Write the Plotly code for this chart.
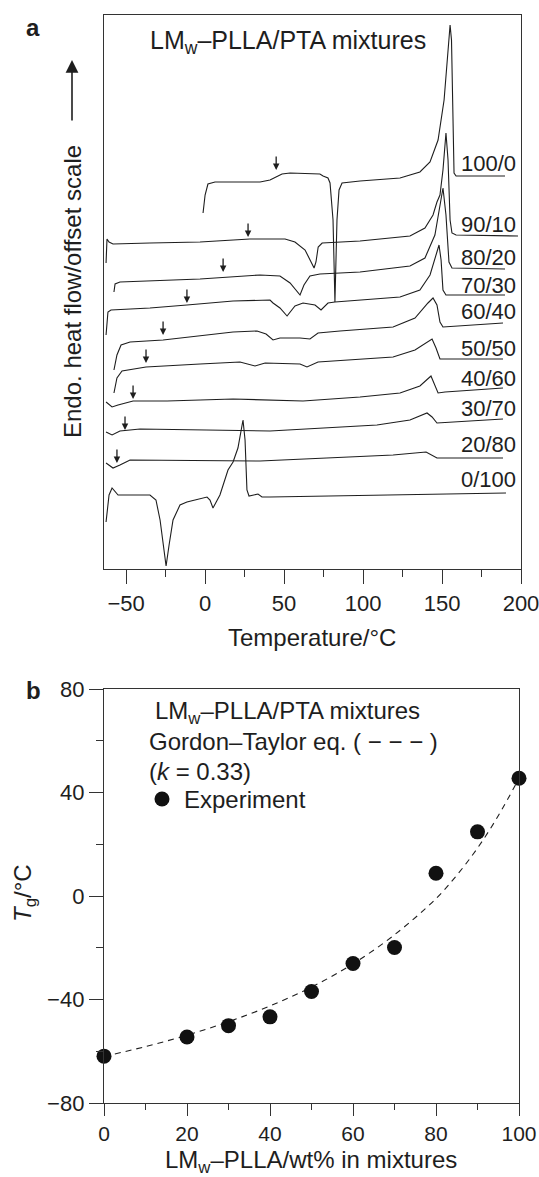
import plotly.graph_objects as go

# ---------------- Panel (a): DSC traces (temperature in degC, offset heat flow in arbitrary units)
labels = ["100/0", "90/10", "80/20", "70/30", "60/40", "50/50", "40/60", "30/70", "20/80", "0/100"]

t_100_0 = [-1.3, 0, 1.8, 6.3, 34.8, 41.1, 48.7, 53.8, 72.7, 74.7, 77.8, 79.1, 81.0, 82.2, 83.5, 84.8, 86.7,
           98.1, 123.4, 136, 142.4, 147.5, 151.3, 153.8, 155.1, 156.0, 156.9, 157.6, 158.9, 167.7, 189.9]
h_100_0 = [355, 373, 384, 386, 386, 388, 394, 395, 394, 392, 390, 385, 348, 266, 348, 378, 385,
           387, 390, 396, 406, 428, 468, 518, 543, 528, 448, 395, 392, 392, 392]

t_90_10 = [-62.7, -62.1, -60.8, -58.3, -34.9, -3.2, 28.4, 50.6, 56.9, 63.3, 67.1, 69.0, 70.2, 71.6, 74.1,
           98.1, 129.7, 139.2, 144.3, 146.8, 148.7, 150.6, 152.5, 153.8, 155.1, 156.3, 158.9, 198.1]
h_90_10 = [305, 329, 326, 324, 325, 326, 329, 329, 326, 318, 306, 300, 306, 321, 325,
           327, 332, 340, 353, 366, 373, 398, 435, 408, 348, 335, 333, 332]

t_80_20 = [-57.7, -57.0, -53.9, -3.2, 34.8, 47.4, 53.8, 58.2, 60.1, 62.6, 66.4, 72.7, 98.1, 129.7, 139.2,
           145.5, 148.7, 150.6, 152.5, 154.4, 156.3, 189.9]
h_80_20 = [276, 284, 286, 289, 293, 292, 285, 276, 273, 283, 292, 294, 296, 302, 310,
           333, 363, 380, 353, 306, 300, 299]

t_70_30 = [-62.7, -61.5, -59.6, -34.9, -11.5, 17.7, 41.1, 43.0, 47.4, 51.9, 56.9, 62.0, 69.6, 73.4, 77.8, 82.2,
           123.4, 136, 142.4, 146.2, 148.1, 149.4, 150.6, 152.5, 189.9]
h_70_30 = [233, 256, 258, 260, 263, 267, 268, 265, 260, 252, 262, 265, 263, 258, 265, 266,
           271, 278, 293, 313, 323, 308, 278, 273, 273]

t_60_40 = [-57.7, -55.8, -53.2, -47.5, -26.6, 17.7, 32.9, 38.6, 43.0, 47.4, 60.1, 66.4, 71.5, 85.4, 119,
           132.9, 141.1, 144.3, 146.8, 148.7, 150.6, 188.6]
h_60_40 = [198, 213, 223, 226, 228, 236, 237, 234, 228, 230, 230, 229, 235, 237, 241,
           250, 265, 270, 263, 246, 241, 245]

t_50_50 = [-57.7, -55.8, -52.6, -37.4, -3.2, 22.1, 31.6, 38.0, 60.1, 64.5, 71.5, 119, 132.9, 141.1, 143.7,
           146.2, 148.7, 188.6]
h_50_50 = [175, 190, 197, 201, 204, 206, 202, 205, 204, 201, 206, 211, 218, 227, 229,
           220, 209, 209]

t_40_60 = [-62.7, -58.9, -55.1, -45.6, -24.1, 17.7, 62.0, 98.1, 123.4, 136, 143.0, 145.5, 147.5, 151.9, 188.6]
h_40_60 = [166, 161, 163, 167, 167, 169, 167, 171, 175, 182, 192, 183, 175, 176, 180]

t_30_70 = [-62.7, -58.9, -53.9, -41.2, 41.1, 108.8, 129.7, 140.5, 143.7, 146.8, 188.6]
h_30_70 = [136, 133, 137, 139, 137, 143, 148, 155, 151, 145, 149]

t_20_80 = [-62.7, -58.3, -53.9, -47.5, 34.8, 119, 139.9, 143.0, 146.8, 188.6]
h_20_80 = [105, 100, 103, 108, 107, 113, 116, 113, 110, 110]

t_0_100 = [-62.7, -60.8, -58.9, -55.1, -34.9, -31.1, -28.5, -26.6, -24.7, -22.8, -20.3, -15.9, -11.5, 1.2, 3.1,
           5.0, 9.4, 14.5, 17.7, 20.8, 24.0, 25.3, 26.5, 27.8, 33.5, 36.0, 41.1, 190.5]
h_0_100 = [46, 73, 80, 73, 73, 68, 48, 23, 2, 23, 48, 63, 66, 71, 68,
           60, 73, 98, 106, 120, 148, 128, 78, 72, 74, 71, 71, 75]

# label anchor heights (same offset units) and glass-transition arrow positions
label_h = [405, 344, 311, 283, 257, 220, 190, 160, 124, 89]
arrow_t = [45.0, 27.2, 11.4, -11.5, -26.6, -37.4, -45.6, -50.7, -55.8]
arrow_h = [398, 331, 296, 265, 233, 205, 169, 138, 105]

# ---------------- Panel (b): Tg vs composition
wt_pct = [0, 20, 30, 40, 50, 60, 70, 80, 90, 100]
tg_exp = [-61.9, -54.5, -50.1, -46.7, -36.9, -26.1, -19.9, 8.8, 24.8, 45.5]
gt_x = [0, 10, 20, 30, 40, 50, 60, 70, 80, 85, 90, 95, 100]
gt_tg = [-62, -58.2, -53.8, -48.6, -42.5, -35.2, -26.2, -15.0, -1.0, 8.0, 18.5, 31.0, 45.5]

FONT = "Liberation Sans, Arial, Helvetica, sans-serif"
INK = "#1e1e1e"

fig = go.Figure()

series = [(t_100_0, h_100_0), (t_90_10, h_90_10), (t_80_20, h_80_20), (t_70_30, h_70_30),
          (t_60_40, h_60_40), (t_50_50, h_50_50), (t_40_60, h_40_60), (t_30_70, h_30_70),
          (t_20_80, h_20_80), (t_0_100, h_0_100)]
for (tx, hy), name in zip(series, labels):
    fig.add_trace(go.Scatter(x=tx, y=hy, mode="lines", name=name,
                             line=dict(color=INK, width=1.1), xaxis="x", yaxis="y",
                             showlegend=False, hoverinfo="skip"))

fig.add_trace(go.Scatter(x=gt_x, y=gt_tg, mode="lines", line=dict(color=INK, width=1.1, dash="6px,5px", shape="spline"),
                         xaxis="x2", yaxis="y2", showlegend=False, hoverinfo="skip"))
fig.add_trace(go.Scatter(x=wt_pct, y=tg_exp, mode="markers", marker=dict(color="#111111", size=15),
                         cliponaxis=False, xaxis="x2", yaxis="y2", showlegend=False, hoverinfo="skip"))

W, H = 539, 1177
def px(x):
    return x / W
def py(y):
    return 1 - y / H

ann = []
# curve labels
for lab, hy in zip(labels, label_h):
    ann.append(dict(x=198, y=hy, xref="x", yref="y", text=lab, showarrow=False, xanchor="right",
                    yanchor="middle", font=dict(size=22, color=INK, family=FONT)))
# Tg arrows
for at, ah in zip(arrow_t, arrow_h):
    ann.append(dict(x=at, y=ah, xref="x", yref="y", ax=0, ay=-15, text="", showarrow=True,
                    arrowhead=2, arrowsize=1, arrowwidth=1.3, arrowcolor=INK))

texts = [
    dict(x=px(33), y=py(27), text="<b>a</b>", size=24, xanchor="center"),
    dict(x=px(33), y=py(690), text="<b>b</b>", size=24, xanchor="center"),
    dict(x=px(148), y=py(42), text="LM<sub>w</sub>–PLLA/PTA mixtures", size=25, xanchor="left"),
    dict(x=px(312), y=py(637), text="Temperature/°C", size=24, xanchor="center"),
    dict(x=px(153), y=py(712), text="LM<sub>w</sub>–PLLA/PTA mixtures", size=24, xanchor="left"),
    dict(x=px(147), y=py(741), text="Gordon–Taylor eq. ( − − − )", size=24, xanchor="left"),
    dict(x=px(147), y=py(771), text="(<i>k</i> = 0.33)", size=24, xanchor="left"),
    dict(x=px(182), y=py(799), text="Experiment", size=24, xanchor="left"),
    dict(x=px(311), y=py(1161), text="LM<sub>w</sub>–PLLA/wt% in mixtures", size=24, xanchor="center"),
]
for t in texts:
    ann.append(dict(x=t["x"], y=t["y"], xref="paper", yref="paper", text=t["text"], showarrow=False,
                    xanchor=t["xanchor"], yanchor="middle", font=dict(size=t["size"], color=INK, family=FONT)))
# rotated axis titles
ann.append(dict(x=px(72), y=py(292), xref="paper", yref="paper", text="Endo. heat flow/offset scale",
                textangle=-90, showarrow=False, xanchor="center", yanchor="middle",
                font=dict(size=24, color=INK, family=FONT)))
ann.append(dict(x=px(24), y=py(893), xref="paper", yref="paper", text="<i>T</i><sub>g</sub>/°C",
                textangle=-90, showarrow=False, xanchor="center", yanchor="middle",
                font=dict(size=24, color=INK, family=FONT)))
# big arrow next to y title
ann.append(dict(x=px(72), y=py(60), xref="paper", yref="paper", ax=0, ay=62, text="", showarrow=True,
                arrowhead=2, arrowsize=1.6, arrowwidth=1.6, arrowcolor=INK))

shapes = [dict(type="circle", xref="paper", yref="paper",
               x0=px(162 - 7.5), x1=px(162 + 7.5), y0=py(799 + 7.5), y1=py(799 - 7.5),
               fillcolor="#111111", line=dict(width=0))]

axis_common = dict(showgrid=False, zeroline=False, showline=True, linecolor="#333333", linewidth=1.3,
                   mirror=True, ticks="outside", tickcolor="#333333", tickwidth=1.3, ticklen=14,
                   automargin=False, ticklabeloverflow="allow",
                   tickfont=dict(size=22, color=INK, family=FONT))
axis_b_x = dict(axis_common, ticklen=12, tickfont=dict(size=21, color=INK, family=FONT))

fig.update_layout(
    width=W, height=H, margin=dict(l=0, r=0, t=0, b=0, pad=0, autoexpand=False),
    paper_bgcolor="white", plot_bgcolor="white", showlegend=False,
    xaxis=dict(domain=[px(104), px(521)], range=[-64, 200], tickvals=[-50, 0, 50, 100, 150, 200],
               minor=dict(tickvals=[-25, 25, 75, 125, 175], ticks="outside", ticklen=7, tickwidth=1.3,
                          tickcolor="#333333"),
               anchor="y", **axis_common),
    yaxis=dict(domain=[py(569), py(15)], range=[-1, 553], showgrid=False, zeroline=False, showline=True,
               linecolor="#333333", linewidth=1.3, mirror=True, ticks="", showticklabels=False, anchor="x",
               automargin=False),
    xaxis2=dict(domain=[px(104), px(519)], range=[0, 100], tickvals=[0, 20, 40, 60, 80, 100],
                minor=dict(tickvals=[10, 30, 50, 70, 90], ticks="outside", ticklen=6, tickwidth=1.3,
                           tickcolor="#333333"),
                anchor="y2", **axis_b_x),
    yaxis2=dict(domain=[py(1103), py(689)], range=[-80, 80], tickvals=[-80, -40, 0, 40, 80],
                minor=dict(tickvals=[-60, -20, 20, 60], ticks="outside", ticklen=7, tickwidth=1.3,
                           tickcolor="#333333"),
                anchor="x2", **axis_common),
    annotations=ann, shapes=shapes,
)

fig.write_html("out.html", config={"displayModeBar": False},
               post_script="document.body.style.margin='0';document.body.style.overflow='hidden';")
